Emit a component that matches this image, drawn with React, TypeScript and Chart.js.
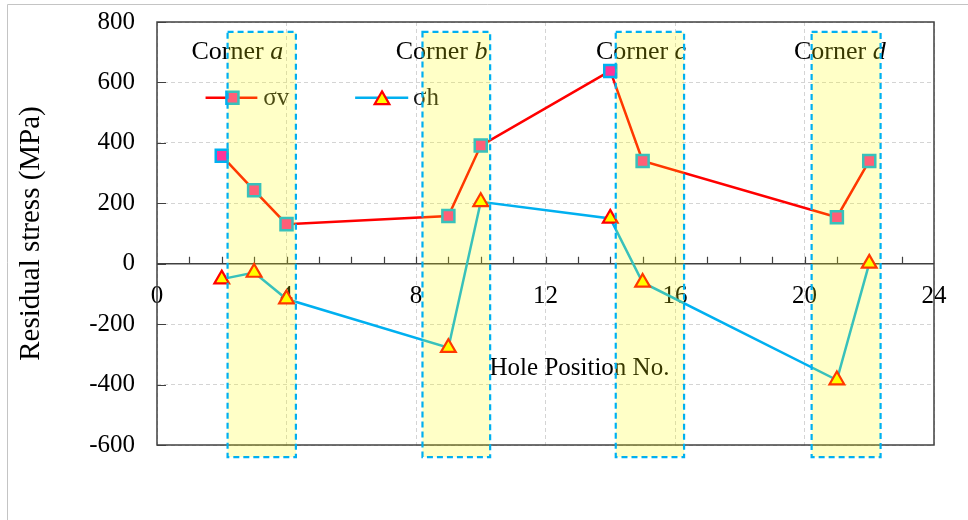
import { useEffect, useRef } from 'react';
import { Chart, registerables } from 'chart.js';

Chart.register(...registerables);

// Hole positions along the part and measured residual stresses (MPa)
const holePositions = [2, 3, 4, 9, 10, 14, 15, 21, 22];
const sigmaV = [357, 243, 131, 158, 391, 638, 340, 154, 340];
const sigmaH = [-51, -29, -117, -278, 205, 150, -62, -385, 1];

// Axis ranges and tick spacing
const xMin = 0;
const xMax = 24;
const xMajorStep = 4;
const yMin = -600;
const yMax = 800;
const yStep = 200;

// Corner regions (in hole-position units) and their labels
const cornerNames = ['a', 'b', 'c', 'd'];
const cornerStart = [2.18, 8.2, 14.17, 20.22];
const cornerEnd = [4.29, 10.29, 16.28, 22.35];
const cornerTop = 767;
const cornerBottom = -640;
const cornerLabelX = [2.48, 8.79, 14.95, 21.09];
const cornerLabelY = 678;

const SERIF = '"Liberation Serif", "Times New Roman", serif';

const V_LINE = '#ff0000';
const H_LINE = '#00b0f0';
const SQUARE_FILL = '#ff3399';
const SQUARE_EDGE = '#00b0f0';
const TRI_FILL = '#ffff00';
const TRI_EDGE = '#ff0000';

function drawSquare(ctx: CanvasRenderingContext2D, x: number, y: number, r: number) {
  const s = Math.SQRT1_2 * r;
  ctx.beginPath();
  ctx.rect(x - s, y - s, 2 * s, 2 * s);
  ctx.fillStyle = SQUARE_FILL;
  ctx.fill();
  ctx.lineWidth = 2.5;
  ctx.strokeStyle = SQUARE_EDGE;
  ctx.stroke();
}

function drawTriangle(ctx: CanvasRenderingContext2D, x: number, y: number, r: number) {
  let rad = 0;
  ctx.beginPath();
  ctx.moveTo(x + Math.sin(rad) * r, y - Math.cos(rad) * r);
  rad += (2 * Math.PI) / 3;
  ctx.lineTo(x + Math.sin(rad) * r, y - Math.cos(rad) * r);
  rad += (2 * Math.PI) / 3;
  ctx.lineTo(x + Math.sin(rad) * r, y - Math.cos(rad) * r);
  ctx.closePath();
  ctx.fillStyle = TRI_FILL;
  ctx.fill();
  ctx.lineWidth = 2.2;
  ctx.strokeStyle = TRI_EDGE;
  ctx.stroke();
}

const decorPlugin = {
  id: 'figureDecor',
  beforeDraw(chart: any) {
    const { ctx, width, height } = chart;
    ctx.save();
    ctx.fillStyle = '#ffffff';
    ctx.fillRect(0, 0, width, height);
    // outer picture frame
    ctx.strokeStyle = '#c4c4c4';
    ctx.lineWidth = 1;
    ctx.beginPath();
    ctx.moveTo(7.5, height);
    ctx.lineTo(7.5, 4.5);
    ctx.lineTo(width, 4.5);
    ctx.stroke();
    ctx.restore();
  },
  beforeDatasetsDraw(chart: any) {
    const { ctx, chartArea: a, scales } = chart;
    const xs = scales.x;
    const ys = scales.y;
    const y0 = ys.getPixelForValue(0);
    ctx.save();
    ctx.strokeStyle = '#404040';
    ctx.lineWidth = 1.5;
    ctx.strokeRect(a.left, a.top, a.right - a.left, a.bottom - a.top);
    // horizontal axis through zero
    ctx.beginPath();
    ctx.moveTo(a.left, y0);
    ctx.lineTo(a.right, y0);
    ctx.stroke();
    // minor ticks on the zero axis, pointing up
    ctx.lineWidth = 1.2;
    ctx.beginPath();
    for (let v = xMin + 1; v < xMax; v++) {
      const px = Math.round(xs.getPixelForValue(v)) + 0.5;
      ctx.moveTo(px, y0);
      ctx.lineTo(px, y0 - 7);
    }
    // inward ticks on the left axis
    for (let v = yMin; v <= yMax; v += yStep) {
      const py = Math.round(ys.getPixelForValue(v)) + 0.5;
      ctx.moveTo(a.left, py);
      ctx.lineTo(a.left + 9, py);
    }
    ctx.stroke();
    ctx.restore();
  },
  afterDatasetsDraw(chart: any) {
    const { ctx, scales } = chart;
    const xs = scales.x;
    const ys = scales.y;
    ctx.save();
    ctx.fillStyle = '#000000';
    ctx.textAlign = 'left';
    ctx.textBaseline = 'alphabetic';

    // corner captions
    const regular = `26px ${SERIF}`;
    const italic = `italic 26px ${SERIF}`;
    cornerNames.forEach((name, i) => {
      ctx.font = regular;
      const w1 = ctx.measureText('Corner ').width;
      ctx.font = italic;
      const w2 = ctx.measureText(name).width;
      const cx = xs.getPixelForValue(cornerLabelX[i]);
      const by = ys.getPixelForValue(cornerLabelY);
      const x0 = cx - (w1 + w2) / 2;
      ctx.font = regular;
      ctx.fillText('Corner ', x0, by);
      ctx.font = italic;
      ctx.fillText(name, x0 + w1, by);
    });

    // horizontal axis title inside the plot
    ctx.font = `25px ${SERIF}`;
    ctx.textAlign = 'center';
    ctx.fillText('Hole Position No.', xs.getPixelForValue(13.05), ys.getPixelForValue(-369));

    // legend
    const ly = ys.getPixelForValue(549);
    ctx.lineWidth = 2.5;
    ctx.strokeStyle = V_LINE;
    ctx.beginPath();
    ctx.moveTo(xs.getPixelForValue(1.5), ly);
    ctx.lineTo(xs.getPixelForValue(3.1), ly);
    ctx.stroke();
    drawSquare(ctx, xs.getPixelForValue(2.33), ly, 8.5);
    ctx.strokeStyle = H_LINE;
    ctx.lineWidth = 2.5;
    ctx.beginPath();
    ctx.moveTo(xs.getPixelForValue(6.12), ly);
    ctx.lineTo(xs.getPixelForValue(7.76), ly);
    ctx.stroke();
    drawTriangle(ctx, xs.getPixelForValue(6.95), ly + 2, 8.5);
    ctx.fillStyle = '#1a1a1a';
    ctx.font = `25px ${SERIF}`;
    ctx.textAlign = 'left';
    ctx.textBaseline = 'middle';
    ctx.fillText('σv', xs.getPixelForValue(3.28), ly + 1);
    ctx.fillText('σh', xs.getPixelForValue(7.91), ly + 1);

    // translucent corner highlight boxes with dashed outlines
    cornerNames.forEach((_, i) => {
      const l = xs.getPixelForValue(cornerStart[i]);
      const r = xs.getPixelForValue(cornerEnd[i]);
      const t = ys.getPixelForValue(cornerTop);
      const b = ys.getPixelForValue(cornerBottom);
      ctx.fillStyle = 'rgba(255, 255, 0, 0.22)';
      ctx.fillRect(l, t, r - l, b - t);
      ctx.setLineDash([6, 4]);
      ctx.lineWidth = 2.2;
      ctx.strokeStyle = '#00b0f0';
      ctx.strokeRect(l, t, r - l, b - t);
      ctx.setLineDash([]);
    });
    ctx.restore();
  },
};

export default function App() {
  const canvasRef = useRef<HTMLCanvasElement>(null);

  useEffect(() => {
    const canvas = canvasRef.current;
    if (!canvas) return;
    const chart = new Chart(canvas, {
      type: 'line',
      data: {
        datasets: [
          {
            label: 'σv',
            data: holePositions.map((x, i) => ({ x, y: sigmaV[i] })),
            borderColor: V_LINE,
            borderWidth: 2.5,
            pointStyle: 'rect',
            pointRadius: 8.5,
            pointBackgroundColor: SQUARE_FILL,
            pointBorderColor: SQUARE_EDGE,
            pointBorderWidth: 2.5,
            tension: 0,
            clip: false as any,
          },
          {
            label: 'σh',
            data: holePositions.map((x, i) => ({ x, y: sigmaH[i] })),
            borderColor: H_LINE,
            borderWidth: 2.5,
            pointStyle: 'triangle',
            pointRadius: 8.5,
            pointBackgroundColor: TRI_FILL,
            pointBorderColor: TRI_EDGE,
            pointBorderWidth: 2.2,
            tension: 0,
            clip: false as any,
          },
        ],
      },
      options: {
        responsive: false,
        devicePixelRatio: 1,
        animation: false,
        layout: { padding: { left: 0, top: 22, right: 34, bottom: 75 } },
        plugins: {
          legend: { display: false },
          tooltip: { enabled: false },
        },
        scales: {
          x: {
            type: 'linear',
            min: xMin,
            max: xMax,
            position: { y: 0 } as any,
            ticks: {
              stepSize: xMajorStep,
              padding: 18,
              color: '#000000',
              font: { family: SERIF, size: 25 },
              maxRotation: 0,
            },
            grid: { color: '#d4d4d4', drawTicks: false, lineWidth: 1 },
            border: { display: false, dash: [4, 3] },
            afterFit(scale: any) {
              scale.height = 0;
              scale.paddingLeft = 0;
              scale.paddingRight = 0;
              scale.paddingTop = 0;
              scale.paddingBottom = 0;
            },
          },
          y: {
            type: 'linear',
            min: yMin,
            max: yMax,
            ticks: {
              stepSize: yStep,
              padding: 22,
              color: '#000000',
              font: { family: SERIF, size: 25 },
            },
            grid: { color: '#d4d4d4', drawTicks: false, lineWidth: 1 },
            border: { display: false, dash: [4, 3] },
            title: {
              display: true,
              text: 'Residual stress (MPa)',
              color: '#000000',
              font: { family: SERIF, size: 29 },
              padding: { top: 14, bottom: 0 },
            },
            afterFit(scale: any) {
              scale.width = 157;
              scale.paddingTop = 0;
              scale.paddingBottom = 0;
            },
          },
        },
      },
      plugins: [decorPlugin],
    });
    return () => chart.destroy();
  }, []);

  return (
    <div style={{ position: 'absolute', left: 0, top: 0, width: 968, height: 520, background: '#ffffff' }}>
      <canvas ref={canvasRef} width={968} height={520} style={{ display: 'block', width: 968, height: 520 }} />
    </div>
  );
}
